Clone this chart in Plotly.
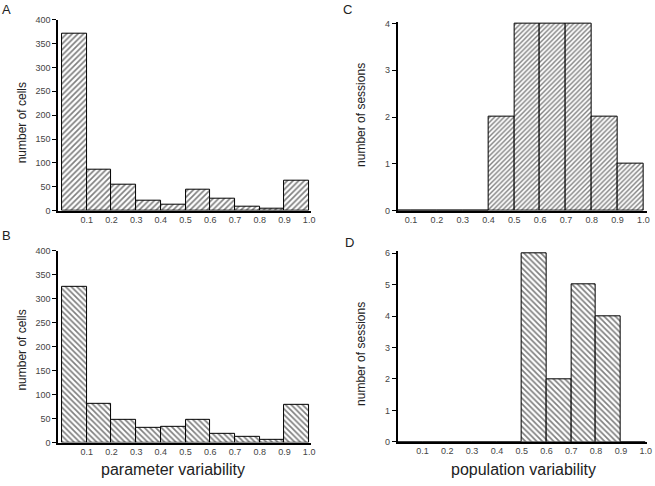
import plotly.graph_objects as go

# ---- data ----
bin_edges = [0.0, 0.1, 0.2, 0.3, 0.4, 0.5, 0.6, 0.7, 0.8, 0.9]
bin_width = 0.1
tick_vals = [0.1, 0.2, 0.3, 0.4, 0.5, 0.6, 0.7, 0.8, 0.9, 1.0]
tick_text = ["0.1", "0.2", "0.3", "0.4", "0.5", "0.6", "0.7", "0.8", "0.9", "1.0"]

cells_A = [370, 85, 54, 20, 13, 43, 25, 9, 4, 62]
cells_B = [325, 81, 47, 31, 33, 47, 19, 12, 6, 79]
sessions_C = [0, 0, 0, 0, 2, 4, 4, 4, 2, 1]
sessions_D = [0, 0, 0, 0, 0, 6, 2, 5, 4, 0]

centers = [e + bin_width / 2 for e in bin_edges]

W, H = 655, 486


def px_x(a, b):
    return [a / W, b / W]


def px_y(top, bottom):
    return [1 - bottom / H, 1 - top / H]


fig = go.Figure()

panels = [
    # values, pattern, hatch size, xaxis id, yaxis id
    (cells_A, "/", 4.0, "x", "y"),
    (cells_B, "\\", 4.0, "x2", "y2"),
    (sessions_C, "/", 3.4, "x3", "y3"),
    (sessions_D, "\\", 4.0, "x4", "y4"),
]

for vals, shp, sz, xa, ya in panels:
    fig.add_trace(go.Bar(
        x=centers, y=vals, width=bin_width,
        xaxis=xa, yaxis=ya,
        marker=dict(color="white",
                    line=dict(color="black", width=1),
                    pattern=dict(shape=shp, size=sz, solidity=0.42,
                                 fgcolor="black", bgcolor="white")),
        showlegend=False, hoverinfo="x+y",
    ))

tickfont = dict(family="Liberation Sans, Arial, sans-serif", size=9, color="#444")

xcommon = dict(showline=True, linecolor="black", linewidth=1.5, showgrid=False,
               zeroline=False, ticks="", tickvals=tick_vals, ticktext=tick_text,
               tickfont=tickfont, fixedrange=True)
ycommon = dict(showline=True, linecolor="black", linewidth=1.5, showgrid=False,
               zeroline=False, ticks="outside", ticklen=4, tickwidth=1,
               tickcolor="black", tickfont=tickfont, fixedrange=True)

fig.update_layout(
    width=W, height=H,
    margin=dict(l=0, r=0, t=0, b=0),
    paper_bgcolor="white", plot_bgcolor="white",
    bargap=0,
    xaxis=dict(xcommon, domain=px_x(58.5, 313), range=[-0.016, 1.006], anchor="y"),
    yaxis=dict(ycommon, domain=px_y(15, 210), range=[0, 400], dtick=50, anchor="x"),
    xaxis2=dict(xcommon, domain=px_x(58.5, 313), range=[-0.016, 1.006], anchor="y2"),
    yaxis2=dict(ycommon, domain=px_y(251, 446.7), range=[0, 400], dtick=50, anchor="x2"),
    xaxis3=dict(xcommon, domain=px_x(400.7, 651.7), range=[0.048, 1.013], anchor="y3"),
    yaxis3=dict(ycommon, domain=px_y(17, 210), range=[0, 4.04], dtick=1, anchor="x3"),
    xaxis4=dict(xcommon, domain=px_x(400.7, 651.7), range=[0.0, 1.004], anchor="y4"),
    yaxis4=dict(ycommon, domain=px_y(251.5, 446), range=[0, 6.06], dtick=1, anchor="x4"),
)

font_txt = "Liberation Sans, Arial, sans-serif"


def ann(text, x, y, size, angle=0):
    fig.add_annotation(text=text, x=x / W, y=1 - y / H, xref="paper", yref="paper",
                       showarrow=False, textangle=angle,
                       font=dict(family=font_txt, size=size, color="#222"),
                       xanchor="center", yanchor="middle")


ann("A", 7, 5, 13)
ann("B", 7, 235, 13)
ann("C", 350, 5, 13)
ann("D", 352, 242, 13)
ann("number of cells", 22, 120, 12, -90)
ann("number of cells", 22, 352, 12, -90)
ann("number of sessions", 363, 112, 12, -90)
ann("number of sessions", 363, 356, 12, -90)
ann("parameter variability", 174, 474, 16)
ann("population variability", 528, 474, 16)

fig.write_html(
    "out.html",
    config={"displayModeBar": False},
    post_script="document.body.style.margin='0';document.body.style.padding='0';",
)
